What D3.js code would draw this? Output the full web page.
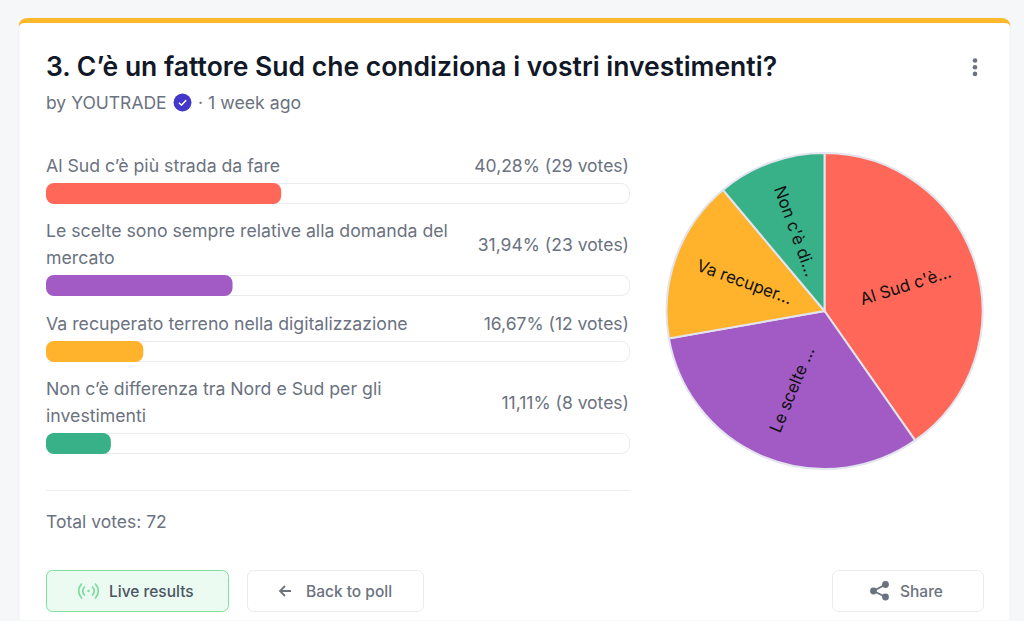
<!DOCTYPE html>
<html>
<head>
<meta charset="utf-8">
<script src="https://cdn.jsdelivr.net/npm/d3@7"></script>
<style>
  html, body { margin: 0; padding: 0; background: #f6f7f9; overflow: hidden; }
  svg { display: block; font-family: Inter, sans-serif; }
</style>
</head>
<body>
<svg id="chart" width="1024" height="621"></svg>
<script>
const categories = [
  'Al Sud c’è più strada da fare',
  'Le scelte sono sempre relative alla domanda del mercato',
  'Va recuperato terreno nella digitalizzazione',
  'Non c’è differenza tra Nord e Sud per gli investimenti'
];
const labelLines = [
  ['Al Sud c’è più strada da fare'],
  ['Le scelte sono sempre relative alla domanda del', 'mercato'],
  ['Va recuperato terreno nella digitalizzazione'],
  ['Non c’è differenza tra Nord e Sud per gli', 'investimenti']
];
const votes = [29, 23, 12, 8];
const percents = ['40,28%', '31,94%', '16,67%', '11,11%'];
const sliceLabels = ['Al Sud c\'è...', 'Le scelte ...', 'Va recuper...', 'Non c\'è di...'];
const colors = ['#ff6859', '#a25bc4', '#ffb32c', '#38b189'];
const totalVotes = 72;

const svg = d3.select('#chart');
const grey = '#6b7280';

// card with the yellow top edge
svg.append('path')
  .attr('d', 'M19,621V28q0,-10 10,-10H1000q10,0 10,10V621Z')
  .attr('fill', '#fff').attr('stroke', '#eff1f4');
svg.append('path')
  .attr('d', 'M18.5,27q0,-9 10,-9H1000.5q10,0 10,9q-1,-4 -6,-4H25q-5,0 -6.5,4Z')
  .attr('fill', '#fdb92c');

// header
svg.append('text').attr('x', 46).attr('y', 76)
  .attr('font-size', 26.5).attr('font-weight', 600).attr('fill', '#111827')
  .text('3. C’è un fattore Sud che condiziona i vostri investimenti?');
svg.append('text').attr('x', 46).attr('y', 109)
  .attr('font-size', 17.5).attr('fill', grey).text('by YOUTRADE');
const badge = svg.append('g').attr('transform', 'translate(182.5,102.5)');
badge.append('circle').attr('r', 9).attr('fill', '#4338ca');
badge.append('path').attr('d', 'M-3.5,0.2L-1,2.7L3.6,-2.2')
  .attr('fill', 'none').attr('stroke', '#fff').attr('stroke-width', 1.6);
svg.append('text').attr('x', 198).attr('y', 109)
  .attr('font-size', 17.7).attr('fill', grey).text('· 1 week ago');
svg.selectAll('.dot').data([0, 1, 2]).enter().append('circle')
  .attr('class', 'dot').attr('cx', 975).attr('cy', d => 60.5 + d * 6.7).attr('r', 2.3)
  .attr('fill', '#6b7280');

// vote bars
const x = d3.scaleLinear().domain([0, totalVotes]).range([0, 584]);
const trackTops = [183, 275, 341, 433];
const lineTops = [171, 236, 329, 394];

const rows = svg.selectAll('.row').data(categories).enter().append('g').attr('class', 'row');

rows.each(function (d, i) {
  const row = d3.select(this);
  labelLines[i].forEach((line, j) => {
    row.append('text').attr('x', 46).attr('y', lineTops[i] + 0.5 + j * 27)
      .attr('font-size', 17.7).attr('fill', grey).text(line);
  });
  row.append('text').attr('x', 629).attr('y', lineTops[i] + 0.5 + (labelLines[i].length - 1) * 14)
    .attr('text-anchor', 'end').attr('font-size', 17.5).attr('fill', grey)
    .text(`${percents[i]} (${votes[i]} votes)`);
  row.append('rect').attr('x', 46.5).attr('y', trackTops[i] + 0.5)
    .attr('width', 583).attr('height', 20).attr('rx', 8)
    .attr('fill', '#fff').attr('stroke', '#e9ebef');
  row.append('rect').attr('x', 46).attr('y', trackTops[i])
    .attr('width', x(votes[i])).attr('height', 21).attr('rx', 8)
    .attr('fill', colors[i]);
});

// pie
const pie = d3.pie().sort(null).value(d => d);
const arc = d3.arc().innerRadius(0).outerRadius(158);
const pieG = svg.append('g').attr('transform', 'translate(824.5,311)');

pieG.selectAll('path').data(pie(votes)).enter().append('path')
  .attr('d', arc)
  .attr('fill', (d, i) => colors[i])
  .attr('stroke', '#e2e4ee').attr('stroke-width', 2);

pieG.selectAll('text').data(pie(votes)).enter().append('text')
  .attr('transform', d => {
    const mid = (d.startAngle + d.endAngle) / 2;
    let deg = mid * 180 / Math.PI - 90;
    if (deg > 90) deg -= 180;
    const r = 85;
    return `translate(${Math.sin(mid) * r},${-Math.cos(mid) * r}) rotate(${deg})`;
  })
  .attr('text-anchor', 'middle').attr('dy', '0.35em')
  .attr('font-family', 'Inter, sans-serif')
  .attr('font-size', 16.8).attr('fill', '#111')
  .text((d, i) => sliceLabels[i]);

// footer
svg.append('line').attr('x1', 46).attr('x2', 630).attr('y1', 490.5).attr('y2', 490.5)
  .attr('stroke', '#eceef1');
svg.append('text').attr('x', 46).attr('y', 527.5)
  .attr('font-size', 17.5).attr('fill', grey).text(`Total votes: ${totalVotes}`);

function button(bx, w, fill, stroke) {
  svg.append('rect').attr('x', bx + 0.5).attr('y', 570.5)
    .attr('width', w - 1).attr('height', 41).attr('rx', 6)
    .attr('fill', fill).attr('stroke', stroke);
}
button(46, 183, '#ecfbf1', '#7fe0a0');
button(247, 177, '#fff', '#e9ebef');
button(832, 152, '#fff', '#e9ebef');

// live icon
const live = svg.append('g').attr('transform', 'translate(88.5,591)')
  .attr('fill', 'none').attr('stroke', '#7bdc9d').attr('stroke-width', 1.7).attr('stroke-linecap', 'round');
live.append('circle').attr('r', 1.2).attr('fill', '#7bdc9d').attr('stroke', 'none');
['M-4,-4A5.6,5.6 0 0 0 -4,4', 'M4,-4A5.6,5.6 0 0 1 4,4', 'M-7,-6.8A9.6,9.6 0 0 0 -7,6.8', 'M7,-6.8A9.6,9.6 0 0 1 7,6.8']
  .forEach(p => live.append('path').attr('d', p));

svg.append('text').attr('x', 109).attr('y', 596.5).attr('font-size', 15.5)
  .attr('font-weight', 500).attr('fill', '#4b5563').text('Live results');

// back arrow
svg.append('path').attr('d', 'M291,591H280M285,586L280,591L285,596')
  .attr('fill', 'none').attr('stroke', '#6b7280').attr('stroke-width', 1.8);
svg.append('text').attr('x', 306).attr('y', 596.5).attr('font-size', 15.5)
  .attr('font-weight', 500).attr('fill', grey).text('Back to poll');

// share icon
const share = svg.append('g').attr('fill', '#6b7280');
[[873.5, 591], [885.5, 584.5], [885.5, 597]].forEach(c => {
  share.append('circle').attr('cx', c[0]).attr('cy', c[1]).attr('r', 3.4);
});
share.append('path').attr('d', 'M885.5,584.5L873.5,591L885.5,597')
  .attr('fill', 'none').attr('stroke', '#6b7280').attr('stroke-width', 1.8);
svg.append('text').attr('x', 900).attr('y', 596.5).attr('font-size', 15.5)
  .attr('font-weight', 500).attr('fill', grey).text('Share');
</script>
</body>
</html>
